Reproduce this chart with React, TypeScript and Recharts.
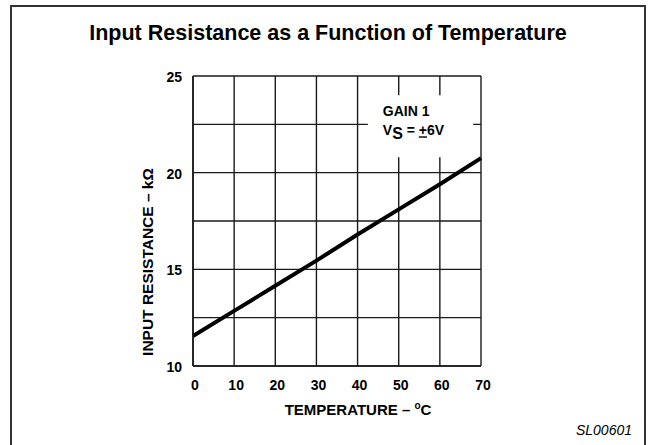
import { LineChart, Line, XAxis, YAxis, CartesianGrid, ReferenceArea, Label } from 'recharts'

const temperatures = [0, 10, 20, 30, 40, 50, 60, 70]
const resistance = [11.55, 12.85, 14.15, 15.45, 16.8, 18.1, 19.4, 20.75]
const xTicks = [0, 10, 20, 30, 40, 50, 60, 70]
const yTicks = [10, 12.5, 15, 17.5, 20, 22.5, 25]
const yLabelled = [10, 15, 20, 25]

const data = temperatures.map((t, i) => ({ temp: t, r: resistance[i] }))

const FONT = '"Liberation Sans", Arial, Helvetica, sans-serif'
const INK = '#1a1a1a'

function XTitle(props: any) {
  const vb = props.viewBox
  return (
    <text x={vb.x + vb.width / 2 + 21} y={vb.y + 49} textAnchor="middle" fontSize={15} fontWeight="bold" fill="#000">
      TEMPERATURE – <tspan fontSize={10} dy={-6}>o</tspan><tspan dy={6}>C</tspan>
    </text>
  )
}

function YTitle(props: any) {
  const vb = props.viewBox
  const x = vb.x + 20
  const y = vb.y + vb.height / 2 + 41
  return (
    <text x={x} y={y} transform={`rotate(-90, ${x}, ${y})`} textAnchor="middle" fontSize={15.5} fontWeight="bold" fill="#000">
      INPUT RESISTANCE – kΩ
    </text>
  )
}

function Note(props: any) {
  const vb = props.viewBox
  return (
    <g fontSize={14} fontWeight="bold" fill="#000">
      <text x={vb.x + 15} y={vb.y + 21}>GAIN 1</text>
      <text x={vb.x + 15} y={vb.y + 40}>
        V<tspan fontSize={16} dy={4}>S</tspan><tspan dy={-4}> = </tspan><tspan textDecoration="underline">+</tspan>6V
      </text>
    </g>
  )
}

export default function App() {
  return (
    <div style={{ position: 'absolute', left: 0, top: 0, width: 654, height: 445, background: '#fff', fontFamily: FONT, overflow: 'hidden' }}>
      <div style={{ position: 'absolute', left: 10, top: 5, width: 636, height: 460, border: '2px solid #333', boxSizing: 'border-box' }} />
      <div style={{ position: 'absolute', left: 0, top: 23, width: 656, textAlign: 'center', fontSize: 21.5, lineHeight: '21px', fontWeight: 'bold', color: '#000' }}>
        Input Resistance as a Function of Temperature
      </div>
      <div style={{ position: 'absolute', right: 22, top: 423, fontSize: 14, lineHeight: '14px', fontStyle: 'italic', color: '#000' }}>
        SL00601
      </div>
      <div style={{ position: 'absolute', left: 0, top: 0 }}>
        <LineChart width={654} height={445} data={data} margin={{ top: 76, right: 173, left: 133, bottom: 29 }}>
          <CartesianGrid stroke={INK} strokeWidth={1.4} />
          <XAxis
            dataKey="temp"
            type="number"
            domain={[0, 70]}
            ticks={xTicks}
            height={50}
            tickSize={0}
            tickMargin={14}
            tickLine={false}
            axisLine={{ stroke: INK, strokeWidth: 1.6 }}
            tick={{ fill: '#000', fontSize: 14, fontWeight: 'bold', dx: 2 }}
          >
            <Label content={XTitle} />
          </XAxis>
          <YAxis
            type="number"
            domain={[10, 25]}
            ticks={yTicks}
            width={60}
            tickSize={0}
            tickMargin={11}
            tickLine={false}
            interval={0}
            axisLine={{ stroke: INK, strokeWidth: 1.6 }}
            tickFormatter={(v: number) => (yLabelled.includes(v) ? String(v) : '')}
            tick={{ fill: '#000', fontSize: 14, fontWeight: 'bold', dy: 1 }}
          >
            <Label content={YTitle} />
          </YAxis>
          <ReferenceArea x1={42.5} x2={68.1} y1={20.8} y2={24} fill="#fff" fillOpacity={1} stroke="none">
            <Label content={Note} />
          </ReferenceArea>
          <Line dataKey="r" type="linear" stroke="#000" strokeWidth={4} dot={false} activeDot={false} isAnimationActive={false} />
        </LineChart>
      </div>
    </div>
  )
}
